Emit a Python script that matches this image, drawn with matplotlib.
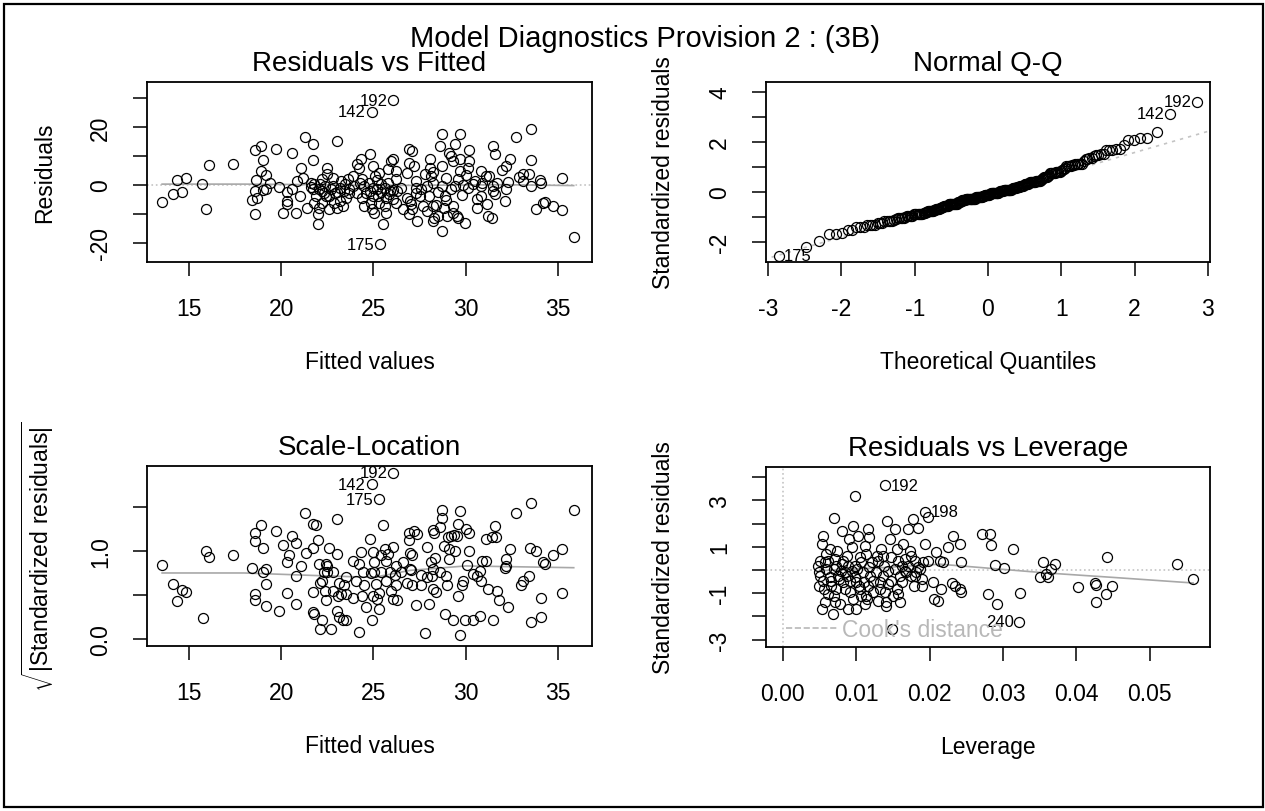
import numpy as np
import matplotlib.pyplot as plt
from matplotlib.lines import Line2D
from matplotlib.patches import Rectangle
from statistics import NormalDist

plt.rcParams['font.family'] = ['Liberation Sans', 'DejaVu Sans']
plt.rcParams['axes.unicode_minus'] = False
plt.rcParams['mathtext.fontset'] = 'custom'
plt.rcParams['mathtext.rm'] = 'Liberation Sans'

# ---- data ----
# Residuals vs Fitted (first three are the labelled observations)
fitted = [26.05, 24.9, 25.37,
          13.55, 14.13, 14.37, 14.64, 14.86, 15.72, 15.9, 16.1, 17.4, 18.4, 18.6, 18.6, 18.6, 18.65,
          18.9, 19.0, 18.9, 19.2, 19.2, 19.7, 19.9, 20.1, 20.3, 20.3, 20.6, 20.8, 20.85, 21.05,
          21.3, 21.4, 21.6, 21.7, 21.7, 21.7, 21.9, 22.0, 22.0, 22.1, 22.2, 22.2, 22.3, 22.5,
          22.6, 22.6, 22.8, 22.8, 23.0, 23.0, 23.05, 23.25, 23.4, 23.6, 23.7, 24.2, 24.3, 24.4,
          24.4, 24.5, 24.8, 24.85, 24.9, 25.0, 25.1, 25.2, 25.2, 25.3, 25.4, 25.5, 25.6, 25.7,
          25.8, 25.9, 25.95, 26.05, 26.2, 26.2, 26.3, 26.8, 26.9, 26.95, 27.0, 27.1, 27.1, 27.2,
          27.3, 27.35, 27.5, 27.8, 27.9, 27.9, 28.05, 28.1, 28.2, 28.2, 28.3, 28.4, 28.5, 28.6,
          28.7, 28.7, 28.8, 28.9, 28.95, 29.0, 29.1, 29.2, 29.3, 29.3, 29.4, 29.5, 29.6, 29.6,
          29.7, 29.8, 29.85, 29.95, 30.0, 30.1, 30.2, 30.2, 30.4, 30.6, 30.8, 30.85, 30.9, 31.1,
          31.15, 31.2, 31.4, 31.45, 31.5, 31.6, 31.6, 31.7, 31.95, 32.1, 32.2, 32.3, 32.4, 32.7,
          32.9, 33.1, 33.4, 33.55, 33.55, 33.55, 33.8, 34.0, 34.1, 34.2, 34.3, 34.7, 35.2, 35.2,
          35.85,
          21.6, 21.8, 22.05, 22.35, 22.45, 22.7, 22.9, 23.2, 23.45, 23.7, 23.9, 24.1, 24.25, 24.6,
          24.75, 25.0, 25.25, 25.4, 25.65, 25.85, 26.05, 26.5, 26.8, 27.05, 27.6, 28.2, 28.7, 28.95,
          29.4, 30.1, 30.5, 30.8, 19.0, 18.7, 20.3, 22.5, 23.2, 23.9, 25.3, 26.2, 27.3, 28.0,
          28.2, 28.7, 29.2, 29.7, 31.25, 33.1, 21.2, 22.2,
          21.8, 22.05, 22.85, 23.35, 24.5, 25.05, 25.7, 26.6, 27.7, 28.5, 29.3, 30.6, 24.1, 25.0,
          25.8, 26.95, 28.05, 29.7, 32.2, 31.45, 20.6, 21.0, 19.4, 23.5, 24.8, 26.05, 27.3]
resid = [29.2, 25.3, -20.5,
         -5.7, -3.2, 1.6, -2.4, 2.5, 0.5, -8.4, 6.9, 7.4, -5.3, 12.1, -10.1, -2.1, 1.7,
         13.4, 8.5, 4.8, 3.4, -1.3, 12.3, -0.7, -9.5, -6.7, -2.4, 11.1, -9.5, 1.4, 6.0,
         16.7, -7.8, 0.8, -1.5, 14.0, 8.6, -3.8, -10.1, -13.6, 0.2, -2.1, -6.1, -2.6, 6.0,
         -3.8, -8.4, 2.5, -0.3, 15.2, -7.8, -2.4, 1.4, -2.1, 2.0, -2.6, 6.0, 8.9, -4.4,
         2.0, -0.3, 10.6, -6.1, -8.2, -3.8, 3.1, -1.5, 1.7, -6.1, -2.4, -13.6, -7.2, -4.4,
         0.8, -2.1, 8.3, 8.9, -6.1, 4.8, -2.1, 4.0, 12.3, -10.1, -5.5, -8.4, 11.7, 6.6,
         1.4, -12.4, -3.8, 3.7, -0.3, -9.0, 6.0, 3.1, -12.4, 4.5, -11.3, -7.0, -2.4, 13.4,
         -15.9, 17.5, -7.8, -3.8, 2.5, -10.7, 11.1, -1.3, -9.5, 8.3, 14.0, -10.7, -11.3, 2.2,
         17.5, -3.6, -0.1, -13.2, 3.3, 6.0, 12.0, 8.3, 0.2, -4.7, 4.8, -3.8, 0.8, 3.1,
         -6.7, -10.7, -11.3, 13.4, -2.1, -3.2, 10.8, 0.8, 5.2, -5.5, 6.6, 1.0, 8.9, 16.7,
         2.9, 3.7, 3.7, 19.4, 8.6, -0.3, -8.4, 1.7, 0.8, -6.3, -5.9, -7.2, 2.5, -8.7,
         -17.8,
         -0.6, 0.2, -1.5, -0.3, -3.8, -1.5, -2.9, -0.9, 0.2, -1.3, -0.3, -2.9, 0.8, -2.6,
         0.8, -0.9, -3.8, 0.2, -0.9, -3.2, -1.7, -0.9, -4.4, -6.4, -1.5, 0.8, -0.3, -5.2,
         -0.3, -0.9, 1.4, -0.3, -1.8, -4.4, -5.5, 3.7, -5.5, 3.1, 4.3, 2.0, -0.9, -3.8,
         -7.2, 6.6, 10.0, 4.8, 3.1, 1.4, 2.5, 2.0,
         -6.1, -7.8, -6.1, -7.2, -7.2, -9.5, -9.5, -8.4, -7.2, -10.7, -7.2, -7.8, 7.2, 6.6,
         5.4, 7.7, 8.9, 8.9, -1.5, -0.3, -1.5, -3.8, 0.8, -4.4, -2.1, -4.7, -2.6]
id_labels = ['192', '142', '175']
resid_scale = 8.07          # residual standard error, from 192: 29.2 -> 3.64

smooth_rf_x = [13.55, 18.0, 22.0, 25.0, 28.0, 32.0, 35.85]
smooth_rf_y = [0.3, 0.3, 0.1, -0.2, -0.1, 0.1, -0.2]

# Scale-Location
sl_fitted = [26.05, 24.9, 25.3,
             13.55, 14.13, 14.37, 14.6, 14.86, 15.76, 15.9, 16.1, 17.4, 18.4, 18.56, 18.56, 18.6,
             18.56, 18.9, 19.0, 19.0, 19.2, 19.2, 19.7, 19.9, 20.1, 20.3, 20.3, 20.4, 20.6, 20.8,
             20.8, 21.05, 21.3, 21.35, 21.7, 21.9, 21.7, 21.7, 21.8, 21.75, 22.0, 22.05, 22.2,
             22.1, 22.2, 22.35, 22.45, 22.5, 22.5, 22.6, 22.7, 22.8, 23.0, 23.0, 23.0, 23.1,
             23.15, 23.25, 23.35, 23.5, 23.5, 23.4, 23.9, 24.2, 24.2, 24.3, 24.4, 24.45, 24.6,
             24.8, 24.85, 24.9, 24.95, 25.05, 25.15, 25.2, 25.3, 25.3, 25.4, 25.5, 25.6, 25.7,
             25.8, 25.95, 26.05, 26.05, 26.15, 26.2, 26.3, 26.8, 26.9, 26.95, 27.0, 27.05, 27.1,
             27.2, 27.3, 27.35, 27.6, 27.8, 27.9, 28.0, 28.1, 28.15, 28.2, 28.2, 28.3, 28.35,
             28.4, 28.6, 28.7, 28.7, 28.8, 28.9, 28.95, 29.0, 29.05, 29.1, 29.2, 29.3, 29.35,
             29.4, 29.5, 29.6, 29.7, 29.7, 29.8, 29.85, 29.95, 30.0, 30.05, 30.2, 30.2, 30.4,
             30.4, 30.75, 30.75, 30.85, 31.1, 31.1, 31.2, 31.4, 31.45, 31.6, 31.65, 31.7, 31.8,
             32.1, 32.2, 32.3, 32.4, 32.7, 33.0, 33.1, 33.4, 33.5, 33.55, 33.55, 33.8, 34.1,
             34.1, 34.2, 34.3, 34.7, 35.2, 35.2, 35.85,
             22.3, 22.45, 22.1, 23.15, 23.5, 25.05, 25.7, 26.2, 26.5, 27.0, 27.6, 27.9, 28.6,
             29.1, 29.6, 30.6, 32.2, 24.5, 25.0, 24.05, 25.4, 25.9, 26.6, 27.1, 28.2, 30.9,
             20.8, 19.2, 22.8, 23.9]
sl_sqrt = [1.89, 1.76, 1.59,
           0.84, 0.625, 0.43, 0.56, 0.53, 0.235, 1.0, 0.93, 0.95, 0.81, 1.21, 1.11, 0.51,
           0.44, 1.30, 0.76, 1.03, 0.63, 0.38, 1.23, 0.32, 1.07, 0.87, 0.52, 0.95, 1.17, 0.40,
           1.09, 0.83, 1.43, 0.98, 1.31, 1.29, 1.03, 0.31, 0.28, 0.53, 1.12, 0.85, 0.21,
           0.11, 0.66, 0.55, 0.44, 0.76, 0.83, 1.03, 0.11, 0.55, 1.36, 0.97, 0.32, 0.49,
           0.25, 0.51, 0.22, 0.22, 0.51, 0.61, 0.46, 0.85, 0.08, 0.99, 0.49, 0.76, 0.36,
           1.14, 0.75, 0.22, 0.99, 0.88, 0.625, 0.45, 0.52, 0.34, 0.95, 1.29, 1.02, 0.66,
           0.97, 0.55, 0.45, 1.04, 0.73, 0.83, 0.44, 0.64, 1.21, 1.12, 0.98, 0.78, 0.95,
           1.23, 0.39, 1.19, 0.73, 0.07, 1.04, 0.40, 0.87, 0.72, 1.24, 0.57, 1.21, 0.92,
           0.53, 1.27, 1.38, 1.47, 1.06, 0.28, 0.72, 0.61, 1.16, 1.02, 1.17, 0.21, 1.18,
           1.00, 1.17, 1.31, 0.05, 1.46, 0.61, 0.66, 0.22, 1.25, 0.84, 1.00, 1.21, 0.22,
           0.74, 0.265, 0.77, 0.66, 0.89, 1.14, 0.57, 1.155, 0.22, 1.28, 1.155, 0.55, 0.44,
           0.81, 0.91, 0.36, 1.02, 1.43, 0.61, 0.66, 0.72, 1.03, 1.55, 0.19, 1.00, 0.25,
           0.47, 0.88, 0.85, 0.95, 1.02, 0.52, 1.47,
           0.76, 0.85, 0.64, 0.64, 0.70, 0.76, 0.89, 0.61, 0.76, 0.80, 0.61, 0.70, 0.76,
           0.91, 0.49, 0.72, 0.83, 0.61, 0.49, 0.66, 0.76, 0.76, 0.87, 0.61, 0.80, 0.89,
           0.72, 0.80, 0.76, 0.89]

smooth_sl_x = [13.55, 18.0, 22.0, 25.0, 27.0, 30.0, 35.85]
smooth_sl_y = [0.75, 0.75, 0.72, 0.70, 0.78, 0.83, 0.81]

# Residuals vs Leverage (first three are the labelled observations)
leverage = [0.0139, 0.0194, 0.0322,
            0.00527, 0.00527, 0.00504, 0.00495, 0.0055, 0.0057, 0.0059, 0.0062, 0.0064, 0.0066,
            0.0068, 0.0069, 0.0069, 0.0071, 0.0073, 0.0075, 0.0078, 0.0080, 0.0081, 0.0082,
            0.0084, 0.0087, 0.0089, 0.0090, 0.0091, 0.0094, 0.0096, 0.0098, 0.0098, 0.0099,
            0.0100, 0.0103, 0.0104, 0.0105, 0.0107, 0.0109, 0.0112, 0.0113, 0.0115, 0.0116,
            0.0118, 0.0119, 0.0121, 0.0123, 0.0128, 0.0130, 0.0132, 0.0134, 0.0137, 0.0138,
            0.0140, 0.0141, 0.0142, 0.0143, 0.0146, 0.0148, 0.0149, 0.0150, 0.0153, 0.0155,
            0.0157, 0.0159, 0.0160, 0.0162, 0.0164, 0.0166, 0.0168, 0.0171, 0.0173, 0.0175,
            0.0177, 0.0178, 0.0180, 0.0182, 0.0184, 0.0187, 0.0189, 0.0191, 0.0193, 0.0198,
            0.0198, 0.0205, 0.0206, 0.0209, 0.0212, 0.0214, 0.0216, 0.0218, 0.0225, 0.0230,
            0.0232, 0.0234, 0.0241, 0.0242, 0.0243, 0.0243, 0.0271, 0.0282, 0.0283, 0.0280,
            0.0289, 0.0292, 0.0301, 0.0313, 0.0323, 0.0350, 0.0355, 0.0359, 0.0361, 0.0366,
            0.0371, 0.0402, 0.0425, 0.0427, 0.0427, 0.0440, 0.0441, 0.0448, 0.0537, 0.0559,
            0.0048, 0.0049, 0.0054, 0.0056, 0.0059, 0.0062, 0.0064, 0.0066, 0.0070, 0.0072,
            0.0074, 0.0077, 0.0079, 0.0082, 0.0084, 0.0087, 0.0089, 0.0091, 0.0094, 0.0095,
            0.0098, 0.0101, 0.0105, 0.0107, 0.0110, 0.0113, 0.0116, 0.0118, 0.0123, 0.0127,
            0.0130, 0.0132, 0.0137, 0.0139, 0.0143, 0.0148, 0.0153, 0.0155, 0.0157, 0.0162,
            0.0166, 0.0171, 0.0175, 0.0180, 0.0184, 0.0189, 0.0050, 0.0057, 0.0071, 0.0112]
lev_std_resid = [3.66, 2.51, -2.23,
                 1.12, -1.68, -0.24, -0.68, 1.48, 0.33, 0.69, -1.03, 0.91, -0.46,
                 -1.90, 2.23, 0.04, 0.47, -0.82, -0.24, -1.47, 0.26, 1.70, -0.53,
                 -0.10, 0.62, -1.68, 1.34, -0.96, 0.98, 1.91, 3.20, 0.19, -1.68,
                 -0.53, 1.48, -0.68, 0.55, -1.11, -0.10, 1.05, -1.11, -1.25, 1.77,
                 1.41, -0.24, 0.33, -0.46, 0.62, -1.32, -0.82, 0.91, -0.24, 0.19,
                 -1.39, -1.54, 2.13, -0.60, 1.34, 0.55, -2.54, -1.11, 1.77, 0.91,
                 -1.03, -0.24, -1.36, 0.19, 1.12, 0.47, -0.10, 1.77, 0.83, -0.24,
                 2.20, -0.68, 0.40, -0.10, 1.80, 0.04, -0.39, 0.33, 1.12, 2.27,
                 0.40, -0.53, -1.25, 0.76, -1.32, 0.40, -0.82, 0.33, 0.98, -0.56,
                 1.48, -0.68, -0.82, 1.12, 0.33, -0.93, 1.55, 1.55, 1.08, -1.03,
                 0.22, -1.47, 0.07, 0.91, -1.01, -0.32, 0.36, -0.17, -0.32, 0.04,
                 0.26, -0.72, -0.57, -0.65, -1.36, -1.03, 0.55, -0.68, 0.26, -0.39,
                 0.19, -0.10, -0.46, -0.82, 0.04, 0.40, -0.32, -0.68, -1.11, 0.19,
                 0.83, -0.39, -0.03, 0.40, -0.82, -0.24, 0.19, -0.46, -0.03, -1.25,
                 -0.32, 0.04, -0.82, 0.33, -0.53, 0.69, -0.68, 0.11, -0.96, -0.10,
                 0.40, -0.53, 0.62, -0.96, -0.03, -0.46, 0.04, -0.82, 0.40, -0.53,
                 -0.03, 0.19, 0.62, -0.24, 0.11, -0.68, 0.40, -1.39, -1.39, -1.47]
lev_labels = ['192', '198', '240']

smooth_lev_x = [0.005, 0.0135, 0.0214, 0.036, 0.045, 0.0559]
smooth_lev_y = [-0.03, 0.10, 0.25, -0.13, -0.32, -0.56]

# ---- figure ----
fig = plt.figure(figsize=(12.65, 8.12), dpi=100)
W, H = 1265.0, 812.0

def box(left, top, right, bottom):
    return [left / W, 1 - bottom / H, (right - left) / W, (bottom - top) / H]

ax1 = fig.add_axes(box(147, 83, 592, 263))
ax2 = fig.add_axes(box(766, 83, 1210, 263))
ax3 = fig.add_axes(box(147, 467, 592, 647))
ax4 = fig.add_axes(box(766, 468, 1210, 648))

pt = dict(marker='o', ls='none', mfc='none', mec='black', ms=7.2, mew=0.9)
smooth_col = '#a8a8a8'
dot_col = '#c4c4c4'
lab_fs = 12


def style(ax, title, xlabel, ylabel):
    ax.set_title(title, fontsize=20, pad=8.5)
    ax.set_xlabel(xlabel, fontsize=16.5)
    ax.set_ylabel(ylabel, fontsize=16.5)
    ax.xaxis.set_label_coords(0.5, -0.49)
    ax.yaxis.set_label_coords(-0.205, 0.5)
    ax.tick_params(length=10, width=1.1, labelsize=16.5, pad=15)
    ax.tick_params(axis='y', labelrotation=90)
    for lbl in ax.get_yticklabels():
        lbl.set_va('center')
    for s in ax.spines.values():
        s.set_linewidth(1.3)


def label_pt(ax, x, y, text, side):
    if side == 'left':
        ax.annotate(text, (x, y), xytext=(-4, 0), textcoords='offset points',
                    ha='right', va='center', fontsize=lab_fs)
    else:
        ax.annotate(text, (x, y), xytext=(4, 0), textcoords='offset points',
                    ha='left', va='center', fontsize=lab_fs)


# Residuals vs Fitted
ax1.axhline(0, color=dot_col, ls=':', lw=1.2)
ax1.plot(smooth_rf_x, smooth_rf_y, color=smooth_col, lw=1.2)
ax1.plot(fitted, resid, **pt)
for i, t in enumerate(id_labels):
    label_pt(ax1, fitted[i], resid[i], t, 'left')
ax1.set_xlim(12.73, 36.84)
ax1.set_ylim(-26.55, 35.5)
ax1.set_xticks([15, 20, 25, 30, 35])
ax1.set_yticks([-20, -10, 0, 10, 20, 30])
ax1.set_yticklabels(['-20', '', '0', '', '20', ''])
style(ax1, 'Residuals vs Fitted', 'Fitted values', 'Residuals')

# Normal Q-Q, built from the residuals above
std_res = np.array(resid) / resid_scale
order = np.argsort(std_res)
n = len(std_res)
nd = NormalDist()
theo = np.array([nd.inv_cdf((i + 0.5) / n) for i in range(n)])
sample = std_res[order]
q_y = np.quantile(sample, [0.25, 0.75])
q_x = np.array([nd.inv_cdf(0.25), nd.inv_cdf(0.75)])
slope = (q_y[1] - q_y[0]) / (q_x[1] - q_x[0])
icpt = q_y[0] - slope * q_x[0]
xx = np.array([-3.5, 3.5])
ax2.plot(xx, icpt + slope * xx, color=dot_col, ls=(0, (2, 3)), lw=1.2)
ax2.plot(theo, sample, **pt)
rank = {idx: r for r, idx in enumerate(order)}
for i, t in enumerate(id_labels):
    r = rank[i]
    label_pt(ax2, theo[r], sample[r], t, 'left' if theo[r] > 0 else 'right')
ax2.set_xlim(-3.03, 3.03)
ax2.set_ylim(-2.8, 4.4)
ax2.set_xticks([-3, -2, -1, 0, 1, 2, 3])
ax2.set_yticks([-2, -1, 0, 1, 2, 3, 4])
ax2.set_yticklabels(['-2', '', '0', '', '2', '', '4'])
style(ax2, 'Normal Q-Q', 'Theoretical Quantiles', 'Standardized residuals')

# Scale-Location
ax3.plot(smooth_sl_x, smooth_sl_y, color=smooth_col, lw=1.2)
ax3.plot(sl_fitted, sl_sqrt, **pt)
for i, t in enumerate(id_labels):
    label_pt(ax3, sl_fitted[i], sl_sqrt[i], t, 'left')
ax3.set_xlim(12.73, 36.84)
ax3.set_ylim(-0.08, 1.966)
ax3.set_xticks([15, 20, 25, 30, 35])
ax3.set_yticks([0, 0.5, 1.0, 1.5])
ax3.set_yticklabels(['0.0', '', '1.0', ''])
style(ax3, 'Scale-Location', 'Fitted values', r'$\sqrt{|\mathrm{Standardized\ residuals}|}$')

# Residuals vs Leverage
ax4.axhline(0, color=dot_col, ls=':', lw=1.2)
ax4.axvline(0, color=dot_col, ls=':', lw=1.2)
ax4.plot(smooth_lev_x, smooth_lev_y, color=smooth_col, lw=1.2)
ax4.plot(leverage, lev_std_resid, **pt)
for i, t in enumerate(lev_labels):
    label_pt(ax4, leverage[i], lev_std_resid[i], t, 'right' if leverage[i] < 0.028 else 'left')
ax4.set_xlim(-0.0023, 0.0582)
ax4.set_ylim(-3.32, 4.44)
ax4.set_xticks([0, 0.01, 0.02, 0.03, 0.04, 0.05])
ax4.set_xticklabels(['0.00', '0.01', '0.02', '0.03', '0.04', '0.05'])
ax4.set_yticks([-3, -2, -1, 0, 1, 2, 3, 4])
ax4.set_yticklabels(['-3', '', '-1', '', '1', '', '3', ''])
style(ax4, 'Residuals vs Leverage', 'Leverage', 'Standardized residuals')
ax4.legend(handles=[Line2D([], [], color='#b8b8b8', ls='--', lw=1.2)],
           labels=["Cook's distance"], loc='lower left', frameon=False,
           bbox_to_anchor=(0.025, -0.015), borderaxespad=0,
           fontsize=16.5, labelcolor='#b8b8b8', handlelength=2.3,
           handletextpad=0.15)

fig.text(645 / W, 1 - 39 / H, 'Model Diagnostics Provision 2 : (3B)',
         ha='center', va='center', fontsize=21)
fig.add_artist(Rectangle((4 / W, 4 / H), 1 - 6 / W, 1 - 9 / H, transform=fig.transFigure,
                         fill=False, lw=1.6, color='black'))

fig.savefig('out.png', dpi=100)
